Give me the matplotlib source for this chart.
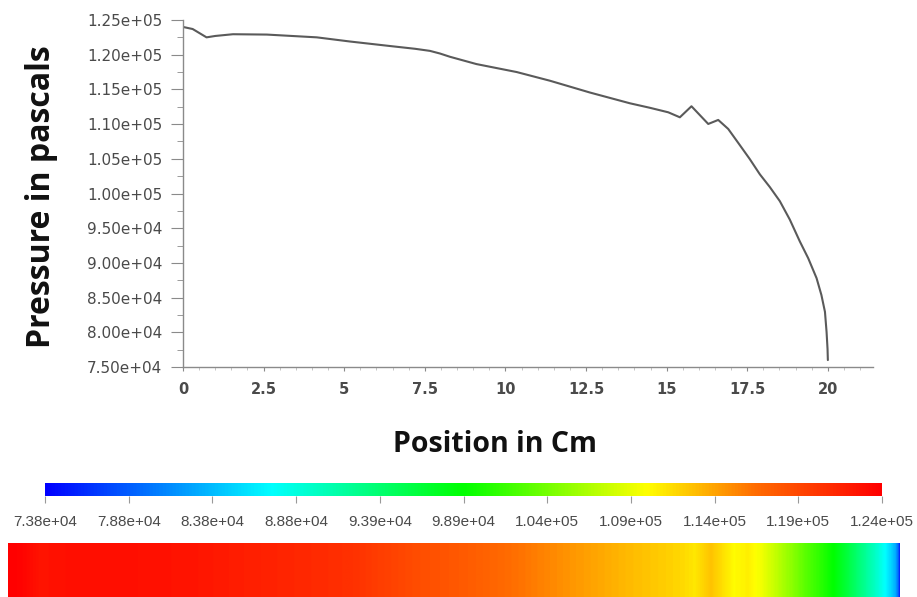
import numpy as np
import matplotlib
matplotlib.use("Agg")
import matplotlib.pyplot as plt
from matplotlib.colors import LinearSegmentedColormap
from matplotlib.ticker import MultipleLocator, FixedLocator

# ---- data ----
position_cm = [0.0, 0.3, 0.73, 1.0, 1.55, 2.6, 4.15, 5.18, 6.42, 7.2, 7.66, 7.97, 8.28,
               9.1, 10.35, 11.38, 12.62, 13.86, 14.48, 15.05, 15.41, 15.77, 16.29, 16.6,
               16.91, 17.25, 17.58, 17.89, 18.2, 18.51, 18.82, 19.13, 19.39, 19.65,
               19.8, 19.91, 19.96, 19.99, 20.0]
pressure_pa = [124000, 123700, 122500, 122700, 122950, 122900, 122500, 121900, 121250,
               120850, 120550, 120170, 119700, 118650, 117500, 116250, 114550, 113000,
               112350, 111700, 110980, 112570, 110020, 110600, 109300, 107100, 104950,
               102770, 100930, 98900, 96240, 93100, 90680, 87800, 85370, 82950, 80050,
               77600, 76000]

cbar_min, cbar_max = 73800, 124000
cbar_labels = ["7.38e+04", "7.88e+04", "8.38e+04", "8.88e+04", "9.39e+04", "9.89e+04",
               "1.04e+05", "1.09e+05", "1.14e+05", "1.19e+05", "1.24e+05"]
y_ticks = [75000, 80000, 85000, 90000, 95000, 100000, 105000, 110000, 115000, 120000, 125000]
y_tick_labels = ["7.50e+04", "8.00e+04", "8.50e+04", "9.00e+04", "9.50e+04", "1.00e+05",
                 "1.05e+05", "1.10e+05", "1.15e+05", "1.20e+05", "1.25e+05"]
x_ticks = [0, 2.5, 5, 7.5, 10, 12.5, 15, 17.5, 20]
x_tick_labels = ["0", "2.5", "5", "7.5", "10", "12.5", "15", "17.5", "20"]

W, H = 917, 597
fig = plt.figure(figsize=(W / 100, H / 100), dpi=100)
fig.patch.set_facecolor("white")

def fx(px):
    return px / W

def fy(py):
    return 1 - py / H

axis_gray = "#8a8a8a"
label_gray = "#4a4a4a"

# ---- main plot ----
ax = fig.add_axes([fx(183), fy(367), fx(873) - fx(183), fy(20) - fy(367)])
ax.plot(position_cm, pressure_pa, color="#5a5a5a", lw=1.5, solid_capstyle="round",
        solid_joinstyle="round")
ax.set_xlim(0, 21.4)
ax.set_ylim(75000, 125000)
for s in ["top", "right"]:
    ax.spines[s].set_visible(False)
for s in ["left", "bottom"]:
    ax.spines[s].set_color(axis_gray)
    ax.spines[s].set_linewidth(1.0)

ax.yaxis.set_major_locator(FixedLocator(y_ticks))
ax.set_yticklabels(y_tick_labels, fontsize=11, color=label_gray, family="DejaVu Sans")
ax.yaxis.set_minor_locator(MultipleLocator(2500))
ax.xaxis.set_major_locator(FixedLocator(x_ticks))
ax.set_xticklabels(x_tick_labels, fontsize=10.5, color=label_gray, family="DejaVu Sans",
                   fontweight="bold")
ax.xaxis.set_minor_locator(MultipleLocator(0.5))
ax.tick_params(axis="y", which="major", length=9, color=axis_gray, pad=6)
ax.tick_params(axis="y", which="minor", length=4, color=axis_gray)
ax.tick_params(axis="x", which="major", length=3, color=axis_gray, pad=8)
ax.tick_params(axis="x", which="minor", length=2, color="#bbbbbb")

fig.text(fx(42), fy(197), "Pressure in pascals", rotation=90, ha="center", va="center",
         fontsize=23, fontweight="bold", family="Open Sans", color="#111111")
fig.text(fx(495), fy(445), "Position in Cm", ha="center", va="center",
         fontsize=20.5, fontweight="bold", family="Open Sans", color="#111111")

# ---- colour map (Fluent-like rainbow) ----
cmap = LinearSegmentedColormap.from_list(
    "fluent", [(0.0, "#0000ff"), (0.27, "#00ffff"), (0.5, "#00ff00"),
               (0.72, "#ffff00"), (0.85, "#ff6c00"), (1.0, "#ff0000")])

# ---- colour bar ----
cax = fig.add_axes([fx(45), fy(496), fx(882) - fx(45), fy(483) - fy(496)])
grad = np.linspace(cbar_min, cbar_max, 512).reshape(1, -1)
cax.imshow(grad, aspect="auto", cmap=cmap, vmin=cbar_min, vmax=cbar_max,
           extent=[cbar_min, cbar_max, 0, 1])
cax.set_xlim(cbar_min, cbar_max)
cax.set_yticks([])
cb_pos = np.linspace(cbar_min, cbar_max, len(cbar_labels))
cax.set_xticks(cb_pos)
cax.set_xticklabels(cbar_labels, fontsize=11, color=label_gray, family="Liberation Sans")
cax.tick_params(axis="x", length=5, color="#999999", pad=9)
for s in cax.spines.values():
    s.set_visible(False)

# ---- contour strip along the position ----
sax = fig.add_axes([fx(8), 0, fx(900) - fx(8), fy(543)])
xs = np.linspace(0, 20, 900)
strip = np.interp(xs, position_cm, pressure_pa).reshape(1, -1)
sax.imshow(strip, aspect="auto", cmap=cmap, vmin=cbar_min, vmax=cbar_max,
           extent=[0, 20, 0, 1], interpolation="bilinear")
sax.set_axis_off()

fig.savefig("out.png", dpi=100)
